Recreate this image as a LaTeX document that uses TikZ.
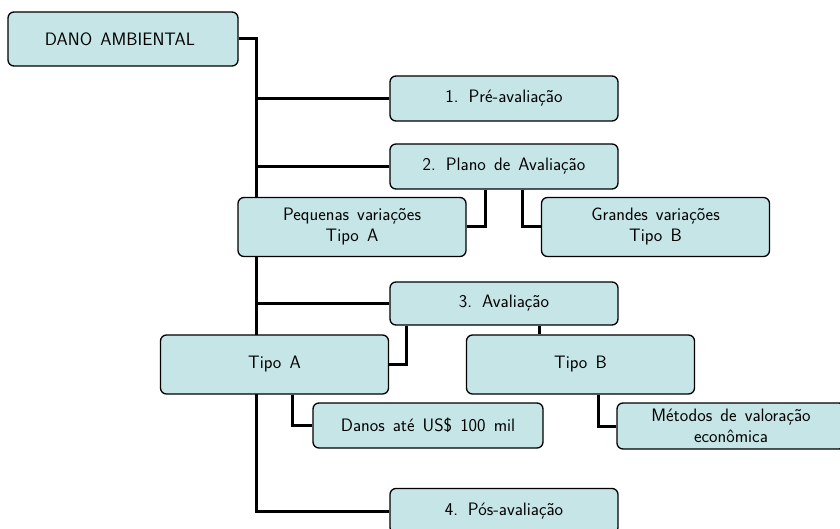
\documentclass[tikz,border=0pt]{standalone}
\usepackage{fontspec}
\usetikzlibrary{backgrounds}
\definecolor{boxfill}{RGB}{197,229,231}
\newcommand{\boxfont}{\sffamily\fontsize{18}{21}\selectfont\spaceskip=0.45em plus 0.1em\relax}
\tikzset{
	box/.style = {
		draw=black,
		fill=boxfill,
		rounded corners=6pt,
		line width=1.3pt,
		align=center,
		inner sep=0pt,
		font=\boxfont,
		minimum width=228pt,
		minimum height=45pt
	},
	box_tall/.style = {
		box,
		minimum height=59pt
	},
	link/.style = {
		draw=black,
		line width=3pt
	},
}
\begin{document}
\begin{tikzpicture}[x=1pt,y=-1pt]
\useasboundingbox (0,0) rectangle (840,529);
\node [box, minimum width=230pt, minimum height=54pt] (dano) at (123,39) {DANO AMBIENTAL\hspace*{6pt}};
\node [box] (pre) at (504,98.5) {1. Pré-avaliação};
\node [box] (plano) at (504,166.5) {2. Plano de Avaliação};
\node [box_tall] (pequenas) at (352,227) {Pequenas variações\\Tipo A};
\node [box_tall] (grandes) at (655.5,227) {Grandes variações\\Tipo B};
\node [box, minimum height=43pt] (aval) at (504,303.5) {3. Avaliação};
\node [box_tall] (tipoA) at (274.5,364.5) {Tipo A};
\node [box_tall] (tipoB) at (580.5,364.5) {Tipo B};
\node [box, minimum width=230pt] (danos) at (428,425.5) {Danos até US\$ 100 mil};
\node [box, minimum height=46pt] (metodos) at (731,426) {Métodos de valoração\\econômica};
\node [box] (pos) at (504,511) {4. Pós-avaliação};
\coordinate (trunk) at (256,511);
\begin{scope}[on background layer]
% main line
\draw [link] (dano.east) -| (trunk) -- (pos.west);
\draw [link] (pre.west) -- (pre.west -| trunk);
\draw [link] (plano.west) -- (plano.west -| trunk);
\draw [link] (aval.west) -- (aval.west -| trunk);
% branches
\draw [link] (plano.south -| 485,0) |- (pequenas.east);
\draw [link] (plano.south -| 522,0) |- (grandes.west);
\draw [link] (aval.south -| 406,0) |- (tipoA.east);
\draw [link] (aval.south -| 539,0) -- (tipoB.north -| 539,0);
\draw [link] (tipoA.south -| 292,0) |- (danos.west);
\draw [link] (tipoB.south -| 598,0) |- (metodos.west);
\end{scope}
\end{tikzpicture}
\end{document}
